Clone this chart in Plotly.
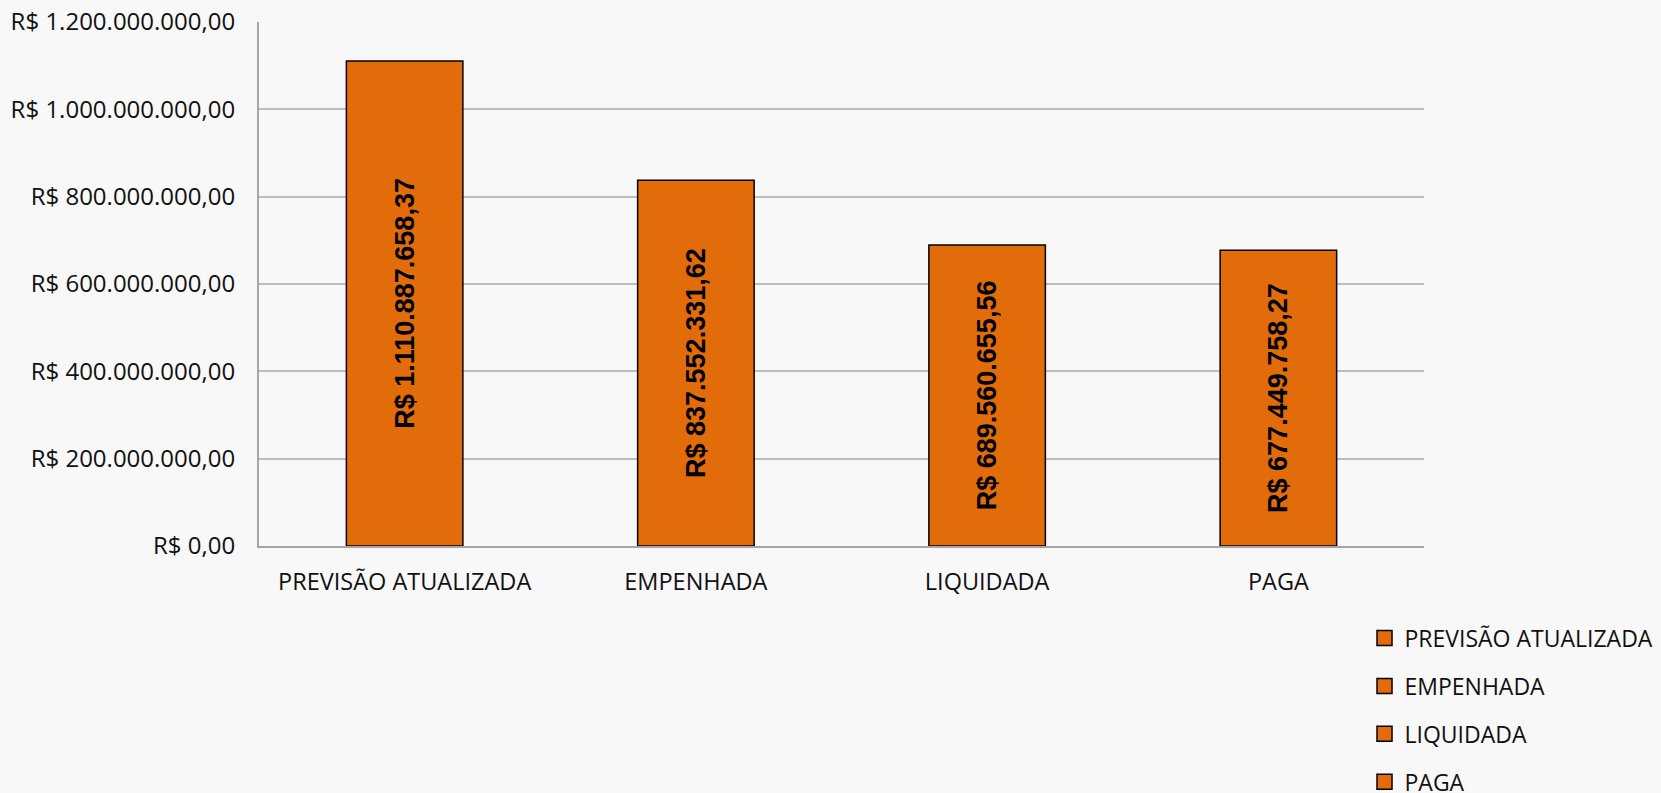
import plotly.graph_objects as go

categories = ["PREVISÃO ATUALIZADA", "EMPENHADA", "LIQUIDADA", "PAGA"]
values = [1110887658.37, 837552331.62, 689560655.56, 677449758.27]
tick_values = [0, 200000000, 400000000, 600000000, 800000000, 1000000000, 1200000000]
tick_labels = ["R$ 0,00", "R$ 200.000.000,00", "R$ 400.000.000,00", "R$ 600.000.000,00",
               "R$ 800.000.000,00", "R$ 1.000.000.000,00", "R$ 1.200.000.000,00"]


def brl(v):
    s = f"{v:,.2f}"
    s = s.replace(",", "X").replace(".", ",").replace("X", ".")
    return "R$ " + s


BAR_COLOR = "#E36C0A"
fig = go.Figure()
for i, (c, v) in enumerate(zip(categories, values)):
    fig.add_trace(go.Bar(
        x=[c], y=[v], width=0.4,
        marker=dict(color=BAR_COLOR, line=dict(color="#000000", width=1.5)),
        text=[brl(v)], textposition="inside", insidetextanchor="middle",
        textangle=-90,
        textfont=dict(family="Liberation Sans", size=27, color="#000000", weight="bold"),
        showlegend=False, hoverinfo="x+y",
    ))
    fig.add_trace(go.Scatter(
        x=[None], y=[None], mode="markers", name=c,
        legendgroup=c,
        marker=dict(symbol="square", size=15, color=BAR_COLOR,
                    line=dict(color="#000000", width=1.5)),
        showlegend=True,
    ))

fig.update_layout(
    width=1661, height=793,
    barmode="overlay",
    paper_bgcolor="#f8f8f8",
    plot_bgcolor="rgba(0,0,0,0)",
    margin=dict(l=259, r=237, t=22, b=247, autoexpand=False),
    font=dict(family="Open Sans", size=23.5, color="#111111"),
    legend=dict(
        xref="container", yref="container",
        x=0.8215, y=0.2225, xanchor="left", yanchor="top",
        traceorder="grouped", tracegroupgap=15,
        bgcolor="rgba(0,0,0,0)",
        font=dict(family="Open Sans", size=23, color="#111111"),
        itemclick=False,
    ),
    xaxis=dict(
        categoryorder="array", categoryarray=categories,
        range=[-0.5, 3.5],
        showline=True, linecolor="#a6a6a6", linewidth=2,
        showgrid=False, ticks="", ticklabelstandoff=14,
        tickfont=dict(family="Open Sans", size=23.5, color="#111111"),
    ),
    yaxis=dict(
        range=[0, 1200000000],
        tickvals=tick_values, ticktext=tick_labels,
        showline=True, linecolor="#a6a6a6", linewidth=2,
        showgrid=True, gridcolor="#bdbdbd", gridwidth=2,
        zeroline=False, ticks="", ticklabelstandoff=17,
        tickfont=dict(family="Open Sans", size=24, color="#111111"),
    ),
)

fig.write_html("out.html", config={"displayModeBar": False},
               post_script="document.body.style.margin='0';document.body.style.overflow='hidden';")
